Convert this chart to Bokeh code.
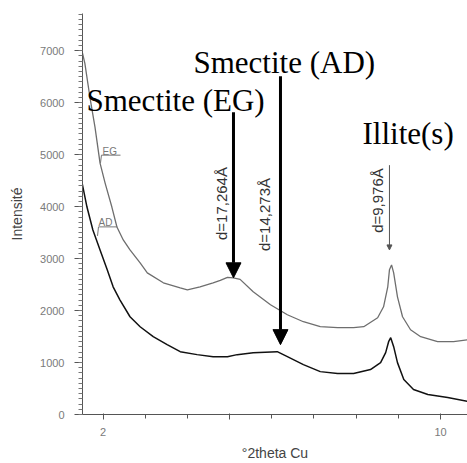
from math import pi
from bokeh.plotting import figure
from bokeh.models import (Range1d, SingleIntervalTicker, FixedTicker, Label,
                          Arrow, NormalHead)
from bokeh.embed import file_html
from bokeh.resources import INLINE

# ---- data ----
two_theta_eg = [1.50, 1.57, 1.69, 1.81, 1.93, 2.05, 2.21, 2.33, 2.48, 2.64, 2.88,
                3.05, 3.43, 3.83, 4.00, 4.30, 4.61, 4.78, 4.95, 5.09, 5.25, 5.56,
                5.97, 6.37, 6.75, 7.15, 7.56, 7.94, 8.18, 8.51, 8.65, 8.75, 8.79,
                8.84, 8.89, 8.98, 9.10, 9.29, 9.53, 9.93, 10.31, 10.65]
intensity_eg = [7000, 6756, 6104, 5528, 4837, 4453, 3992, 3608, 3359, 3167, 2917,
                2726, 2534, 2438, 2399, 2457, 2534, 2580, 2640, 2630, 2600, 2361,
                2111, 1919, 1785, 1689, 1670, 1670, 1689, 1862, 2073, 2457, 2783,
                2879, 2726, 2265, 1881, 1631, 1497, 1401, 1401, 1440]

two_theta_ad = [1.50, 1.62, 1.76, 1.93, 2.10, 2.24, 2.40, 2.64, 2.88, 3.19, 3.52,
                3.83, 4.23, 4.61, 4.95, 5.18, 5.56, 6.13, 6.37, 6.75, 7.15, 7.56,
                7.94, 8.34, 8.58, 8.70, 8.77, 8.82, 8.89, 8.98, 9.13, 9.36, 9.70,
                10.17, 10.65]
intensity_ad = [4472, 3992, 3551, 3167, 2783, 2457, 2207, 1881, 1689, 1497, 1344,
                1209, 1152, 1113, 1113, 1152, 1190, 1209, 1113, 960, 825, 787,
                787, 864, 998, 1190, 1401, 1478, 1305, 998, 672, 480, 384,
                326, 250]

x_major_ticks = [2, 5, 10]
x_minor_ticks = [3, 4, 6, 7, 8, 9]
x_tick_labels = {2: "2", 5: "", 10: "10"}

peak_labels = ["d=17,264Å", "d=14,273Å", "d=9,976Å"]
peak_angles = [5.093, 6.207, 8.79]

SANS = "Liberation Sans"
SERIF = "Liberation Serif"

p = figure(width=467, height=463, output_backend="svg", toolbar_location=None,
           x_range=Range1d(1.514, 10.64), y_range=Range1d(0, 7716),
           min_border_left=82, min_border_right=0, min_border_top=13,
           min_border_bottom=48)
p.outline_line_color = None
p.xgrid.visible = False
p.ygrid.visible = False
p.background_fill_color = "white"

# curves
p.line(two_theta_eg, intensity_eg, line_color="#6e6e6e", line_width=1.3)
p.line(two_theta_ad, intensity_ad, line_color="#111111", line_width=1.5)

# y axis
ya = p.yaxis[0]
ya.ticker = SingleIntervalTicker(interval=1000, num_minor_ticks=10)
ya.major_tick_out = 8
ya.major_tick_in = 0
ya.minor_tick_out = 4
ya.minor_tick_in = 0
ya.axis_line_color = "#555555"
ya.major_tick_line_color = "#555555"
ya.minor_tick_line_color = "#777777"
ya.major_label_text_font = SANS
ya.major_label_text_font_size = "11px"
ya.major_label_text_color = "#7a7a7a"
ya.major_label_standoff = 10
ya.axis_label = "Intensité"
ya.axis_label_text_font = SANS
ya.axis_label_text_font_size = "14px"
ya.axis_label_text_font_style = "normal"
ya.axis_label_text_color = "#444444"
ya.axis_label_standoff = 12

# x axis
xa = p.xaxis[0]
xa.ticker = FixedTicker(ticks=x_major_ticks, minor_ticks=x_minor_ticks)
xa.major_label_overrides = x_tick_labels
xa.major_tick_out = 5
xa.major_tick_in = 1
xa.minor_tick_out = 4
xa.minor_tick_in = 0
xa.axis_line_color = "#555555"
xa.major_tick_line_color = "#555555"
xa.minor_tick_line_color = "#555555"
xa.major_label_text_font = SANS
xa.major_label_text_font_size = "11px"
xa.major_label_text_color = "#7a7a7a"
xa.major_label_standoff = 8
xa.axis_label = "°2theta Cu"
xa.axis_label_text_font = SANS
xa.axis_label_text_font_size = "14px"
xa.axis_label_text_font_style = "normal"
xa.axis_label_text_color = "#444444"
xa.axis_label_standoff = 6

# big annotations
p.add_layout(Label(x=4.145, y=6775, text="Smectite (AD)", text_font=SERIF,
                   text_font_size="31px", text_color="black",
                   text_align="left", text_baseline="alphabetic"))
p.add_layout(Label(x=1.609, y=6046, text="Smectite (EG)", text_font=SERIF,
                   text_font_size="31px", text_color="black",
                   text_align="left", text_baseline="alphabetic"))
p.add_layout(Label(x=8.151, y=5413, text="Illite(s)", text_font=SERIF,
                   text_font_size="31px", text_color="black",
                   text_align="left", text_baseline="alphabetic"))

# arrows
p.add_layout(Arrow(x_start=peak_angles[0], y_start=5816, x_end=peak_angles[0], y_end=2630,
                   line_width=3, line_color="black",
                   end=NormalHead(size=15, fill_color="black", line_color="black")))
p.add_layout(Arrow(x_start=peak_angles[1], y_start=6507, x_end=peak_angles[1], y_end=1344,
                   line_width=3, line_color="black",
                   end=NormalHead(size=15, fill_color="black", line_color="black")))
p.add_layout(Arrow(x_start=peak_angles[2], y_start=4798, x_end=peak_angles[2], y_end=3167,
                   line_width=1, line_color="#555555",
                   end=NormalHead(size=5, fill_color="#555555", line_color="#555555")))

# rotated d-spacing labels
for txt, xx, yy in zip(peak_labels, [4.81, 5.828, 8.506], [4059, 3848, 4117]):
    p.add_layout(Label(x=xx, y=yy, text=txt, text_font=SANS, text_font_size="15px",
                       text_color="#333333", angle=pi / 2,
                       text_align="center", text_baseline="middle"))

# EG / AD small labels with underline leaders
p.add_layout(Label(x=1.988, y=5070, text="EG", text_font=SANS, text_font_size="10px",
                   text_color="#777777", text_align="left", text_baseline="alphabetic"))
p.line([2.415, 1.964, 1.94], [4990, 4990, 4837], line_color="#777777", line_width=1)
p.add_layout(Label(x=1.893, y=3690, text="AD", text_font=SANS, text_font_size="10px",
                   text_color="#777777", text_align="left", text_baseline="alphabetic"))
p.line([2.343, 1.893, 1.87], [3610, 3610, 3436], line_color="#777777", line_width=1)

open("out.html", "w").write(file_html(p, INLINE))
